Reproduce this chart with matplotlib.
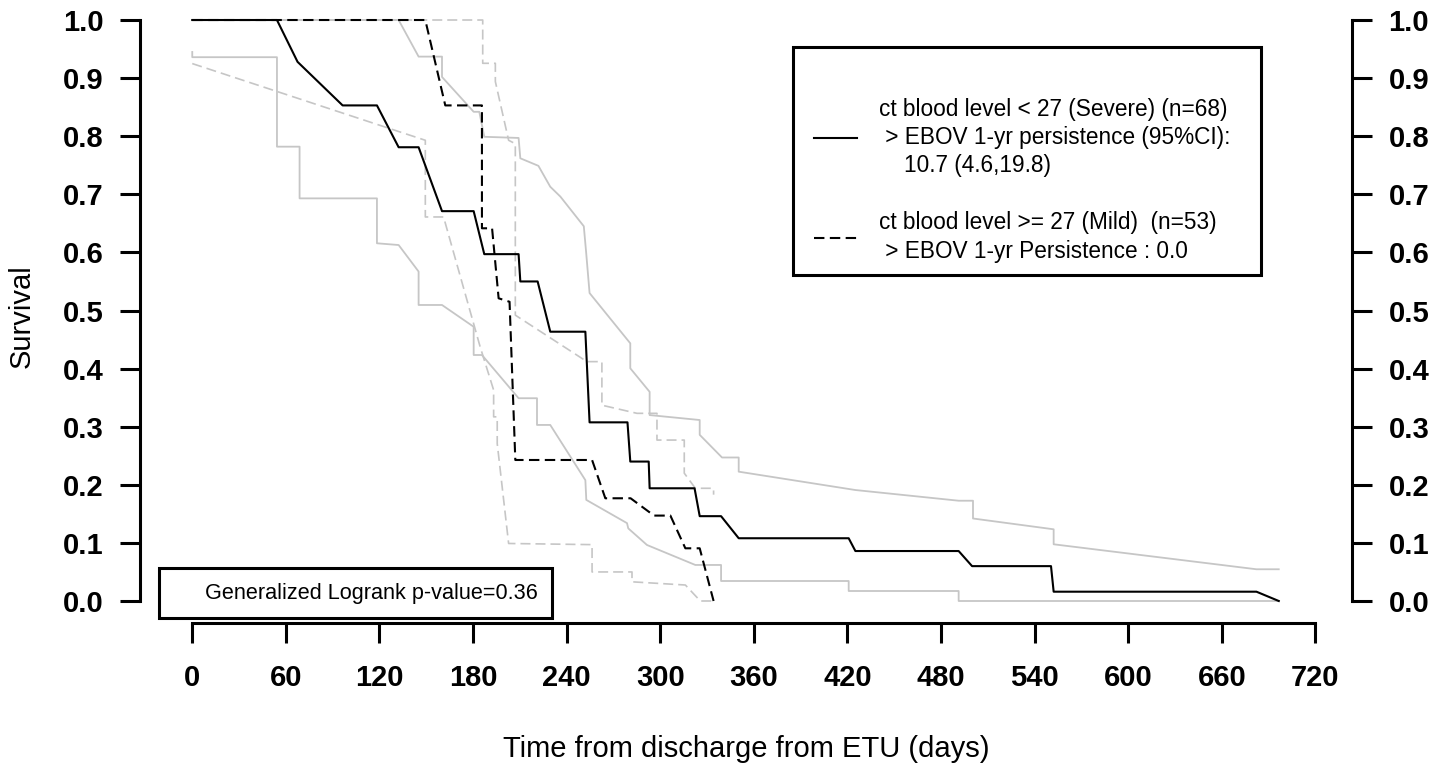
import matplotlib
matplotlib.use("Agg")
import matplotlib.pyplot as plt
from matplotlib.lines import Line2D
from matplotlib.legend_handler import HandlerLine2D

plt.rcParams['font.family'] = ['Liberation Sans', 'DejaVu Sans']

# Severe group (ct < 27): KM estimate and 95% CI bounds
sev_t = [0, 54.3, 67.5, 96.4, 118.4, 132.3, 145.1, 160.1, 180.4, 187.2, 209.2, 210.3,
         221.4, 229.5, 252, 254.7, 279, 280.8, 292.6, 293.2, 322, 325.3, 339, 350.3,
         420.8, 425.1, 491.3, 499.9, 550.5, 552.2, 682.2, 696.5]
sev_s = [1.0, 1.0, 0.928, 0.853, 0.853, 0.781, 0.781, 0.671, 0.671, 0.597, 0.597, 0.550,
         0.550, 0.4635, 0.4635, 0.3075, 0.3075, 0.240, 0.240, 0.194, 0.194, 0.146, 0.146, 0.108,
         0.108, 0.086, 0.086, 0.060, 0.060, 0.016, 0.016, 0.0]

sev_up_t = [0, 132.3, 145.1, 160.1, 160.1, 180.4, 184, 187.2, 209.2, 210.3, 221.9, 229.5,
            236, 251, 252.5, 254.7, 280.8, 280.8, 293.2, 293.2, 325.3, 325.3, 339.6, 350.3,
            350.3, 425.1, 491.3, 500.5, 500.5, 552.2, 552.2, 682.2, 696.5]
sev_up_s = [1.0, 1.0, 0.937, 0.937, 0.902, 0.842, 0.842, 0.799, 0.797, 0.762, 0.749, 0.713,
            0.696, 0.645, 0.60, 0.53, 0.4435, 0.4005, 0.360, 0.320, 0.3115, 0.286, 0.247, 0.247,
            0.2226, 0.191, 0.1726, 0.1726, 0.142, 0.1234, 0.0976, 0.0546, 0.0546]

sev_lo_t = [0, 0, 54.3, 54.3, 68.8, 68.8, 118.4, 118.4, 132.3, 145.1, 145.1, 160.1, 180.4,
            180.4, 185.7, 209.2, 221, 221, 229.5, 252, 252.6, 278.7, 279.5, 291.5, 322.5, 339,
            339, 420.8, 420.8, 491.3, 491.3, 696.5]
sev_lo_s = [0.945, 0.936, 0.936, 0.782, 0.782, 0.693, 0.693, 0.6157, 0.6127, 0.567, 0.5095,
            0.5095, 0.472, 0.4234, 0.4234, 0.349, 0.349, 0.303, 0.303, 0.208, 0.174, 0.134,
            0.125, 0.0964, 0.062, 0.062, 0.0344, 0.0344, 0.0172, 0.0172, 0.0, 0.0]

# Mild group (ct >= 27)
mild_t = [0, 149.4, 162.2, 185.7, 185.7, 192.2, 196.4, 203.4, 207.1, 256.3, 264.8, 281,
          296, 306.5, 316.1, 325.3, 334.2]
mild_s = [1.0, 1.0, 0.853, 0.853, 0.6415, 0.6415, 0.521, 0.515, 0.2427, 0.2427, 0.1768,
          0.1768, 0.147, 0.147, 0.0907, 0.0907, 0.0]

mild_up_t = [0, 186.2, 186.2, 194.3, 194.3, 202.8, 207.1, 207.1, 253, 262.6, 262.6, 285.1,
             297.9, 297.9, 315.4, 315.4, 322.5, 334.2, 334.2]
mild_up_s = [1.0, 1.0, 0.9255, 0.9255, 0.894, 0.793, 0.787, 0.492, 0.412, 0.412, 0.337,
             0.323, 0.323, 0.277, 0.277, 0.22, 0.194, 0.194, 0.183]

mild_lo_t = [0, 149.4, 149.4, 161.1, 180.3, 184.5, 193.2, 193.2, 195.5, 195.5, 202.8, 256.3,
             256.3, 281.9, 281.9, 316.1, 325.7, 334.2]
mild_lo_s = [0.925, 0.793, 0.661, 0.661, 0.478, 0.438, 0.363, 0.317, 0.317, 0.271, 0.099,
             0.097, 0.050, 0.050, 0.033, 0.0275, 0.0, 0.0]

x_ticks = [0, 60, 120, 180, 240, 300, 360, 420, 480, 540, 600, 660, 720]
y_ticks = [0.0, 0.1, 0.2, 0.3, 0.4, 0.5, 0.6, 0.7, 0.8, 0.9, 1.0]

label_severe = ("ct blood level < 27 (Severe) (n=68)   \n"
                " > EBOV 1-yr persistence (95%CI):   \n"
                "    10.7 (4.6,19.8)")
label_mild = ("ct blood level >= 27 (Mild)  (n=53)\n"
              " > EBOV 1-yr Persistence : 0.0")
logrank_text = "Generalized Logrank p-value=0.36"

grey = '#c6c6c6'
dash_blk = (0, (5, 2.6))
dash_gry = (0, (6, 3))

fig = plt.figure(figsize=(14.5, 7.68), dpi=100)
ax = fig.add_axes([0.09655, 0.18841, 0.8357, 0.7931])

ax.plot(sev_up_t, sev_up_s, color=grey, lw=1.3)
ax.plot(sev_lo_t, sev_lo_s, color=grey, lw=1.3)
ax.plot(mild_up_t, mild_up_s, color=grey, lw=1.2, linestyle=dash_gry)
ax.plot(mild_lo_t, mild_lo_s, color=grey, lw=1.2, linestyle=dash_gry)
l1, = ax.plot(sev_t, sev_s, color='black', lw=1.5)
l2, = ax.plot(mild_t, mild_s, color='black', lw=1.5, linestyle=dash_blk)

ax.set_xlim(-33.5, 743.3)
ax.set_ylim(-0.0384, 1.01)

ax.spines['top'].set_visible(False)
for s in ['left', 'right', 'bottom']:
    ax.spines[s].set_linewidth(2.2)
ax.spines['left'].set_bounds(0, 1)
ax.spines['right'].set_bounds(0, 1)
ax.spines['bottom'].set_bounds(0, 720)

ax.set_xticks(x_ticks)
ax.set_xticklabels([str(v) for v in x_ticks])
ax.set_yticks(y_ticks)
ax.set_yticklabels([f"{v:.1f}" for v in y_ticks])
ax.tick_params(axis='y', left=True, right=True, labelleft=True, labelright=True,
               length=14.4, width=2.2, pad=12, labelsize=21)
ax.tick_params(axis='x', length=14.4, width=2.2, pad=15, labelsize=21)
for lab in ax.get_xticklabels() + ax.get_yticklabels():
    lab.set_fontweight('bold')

ax.set_xlabel("Time from discharge from ETU (days)", fontsize=21)
ax.xaxis.set_label_coords(0.5, -0.2064)
ax.xaxis.label.set_va('center')
ax.set_ylabel("Survival", fontsize=21)
ax.yaxis.set_label_coords(-0.0976, 0.505)
ax.yaxis.label.set_va('center')

# R-like legend: short line sample inset from the box edge
hmap = {l1: HandlerLine2D(numpoints=2, marker_pad=0.38),
        l2: HandlerLine2D(numpoints=2, marker_pad=0.38)}
leg = ax.legend([l1, l2], [label_severe, label_mild], loc='upper left', handler_map=hmap,
                bbox_to_anchor=(792.7 / 1450, 1 - 46.7 / 768), bbox_transform=fig.transFigure,
                borderaxespad=0, fontsize=16.3, title=" ", title_fontsize=2,
                frameon=True, fancybox=False, edgecolor='black', framealpha=1,
                handlelength=2.66, handletextpad=0.59, labelspacing=1.52, borderpad=0.55)
leg.get_frame().set_linewidth(2.2)
for t in leg.get_texts():
    t.set_linespacing(1.29)
ax.add_artist(leg)

blank = Line2D([], [], color='none')
leg2 = ax.legend([blank], [logrank_text], loc='upper left',
                 bbox_to_anchor=(159.3 / 1450, 1 - 568.3 / 768), bbox_transform=fig.transFigure,
                 borderaxespad=0, fontsize=15.6, frameon=True, fancybox=False,
                 edgecolor='black', framealpha=1, handlelength=0.65, handletextpad=0.8,
                 borderpad=0.66)
leg2.get_frame().set_linewidth(2.2)

fig.savefig("out.png", dpi=100)
